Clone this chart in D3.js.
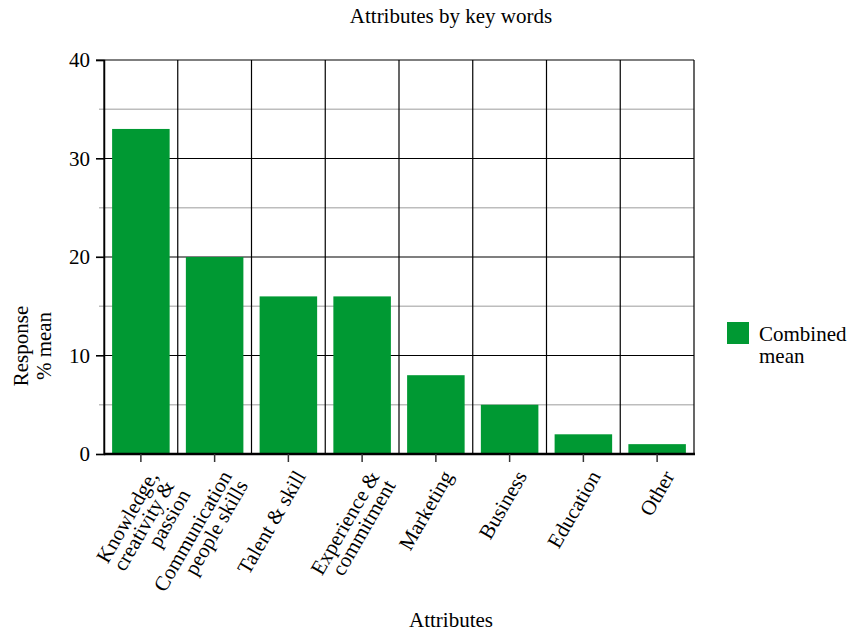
<!DOCTYPE html>
<html><head><meta charset="utf-8">
<script src="https://cdn.jsdelivr.net/npm/d3@7"></script>
<style>body{margin:0;background:#fff}svg text{font-family:"Liberation Serif","Times New Roman",serif !important;fill:#000}</style>
</head><body><svg id="c" width="848" height="632"></svg>
<script>
const categories = [["Knowledge,","creativity &","passion"],["Communication","people skills"],["Talent & skill"],["Experience &","commitment"],["Marketing"],["Business"],["Education"],["Other"]];
const values = [33, 20, 16, 16, 8, 5, 2, 1];
const majorTicks = [0, 10, 20, 30, 40];
const minorTicks = [5, 15, 25, 35];
const seriesName = ["Combined", "mean"];
const title = "Attributes by key words";
const xTitle = "Attributes";
const yTitle = ["Response", "% mean"];

const svg = d3.select("#c");
const L = 104, R = 694, T = 60, B = 454;
const fs = 21;
const idx = categories.map((d,i)=>i);
const x = d3.scaleBand().domain(idx).range([L, R]).paddingInner(0.22).paddingOuter(0.11);
const xb = d3.scaleBand().domain(idx).range([L, R]);
const y = d3.scaleLinear().domain([0, 40]).range([B, T]);

// minor gridlines
svg.append("g").selectAll("line").data(minorTicks).join("line")
  .attr("x1", L-5).attr("x2", R).attr("y1", d=>y(d)).attr("y2", d=>y(d))
  .attr("stroke", "#bdbdbd").attr("stroke-width", 1.5);
// major gridlines
svg.append("g").selectAll("line").data(majorTicks.filter(d=>d>0)).join("line")
  .attr("x1", L-8).attr("x2", R).attr("y1", d=>y(d)).attr("y2", d=>y(d))
  .attr("stroke", "#000").attr("stroke-width", 1.2);
// vertical gridlines at band boundaries
const bounds = idx.map(i=>xb(i)).concat([R]);
svg.append("g").selectAll("line").data(bounds).join("line")
  .attr("x1", d=>d).attr("x2", d=>d).attr("y1", T).attr("y2", B)
  .attr("stroke", "#000").attr("stroke-width", 1.2);

// bars
svg.append("g").selectAll("rect").data(values).join("rect")
  .attr("x", (d,i)=>x(i)).attr("width", x.bandwidth())
  .attr("y", d=>y(d)).attr("height", d=>B-y(d)).attr("fill", "#009933");

// y axis
const ya = svg.append("g").attr("transform", `translate(${L},0)`)
  .call(d3.axisLeft(y).tickValues(majorTicks).tickSize(8).tickPadding(6));
ya.attr("font-family", null).attr("font-size", null);
ya.select(".domain").attr("stroke", "#000").attr("stroke-width", 1.5);
ya.selectAll(".tick line").attr("stroke", "#000").attr("stroke-width", 1.2);
ya.selectAll(".tick text").attr("font-size", fs).attr("fill", "#000");

// x axis
const xa = svg.append("g").attr("transform", `translate(0,${B})`)
  .call(d3.axisBottom(x).tickSize(8).tickFormat(""));
xa.select(".domain").attr("stroke", "#000").attr("stroke-width", 2.5).attr("d", `M${L},0H${R+1}`);
xa.selectAll(".tick line").attr("stroke", "#333").attr("stroke-width", 1.5);
xa.selectAll(".tick text").remove();

// x labels rotated
const lab = svg.append("g").selectAll("text").data(categories).join("text")
  .attr("transform", (d,i)=>`translate(${x(i)+x.bandwidth()/2+18},${B+22}) rotate(-60)`)
  .attr("text-anchor", "end").attr("font-size", fs);
lab.selectAll("tspan").data(d=>d).join("tspan")
  .attr("x", 0).attr("dy", (d,j)=>j===0?0:"0.88em").text(d=>d);

// titles
svg.append("text").attr("x", 451).attr("y", 23).attr("text-anchor", "middle").attr("font-size", fs).text(title);
svg.append("text").attr("x", 451).attr("y", 627).attr("text-anchor", "middle").attr("font-size", fs).text(xTitle);
const yt = svg.append("text").attr("transform", "translate(28,346) rotate(-90)").attr("text-anchor", "middle").attr("font-size", fs);
yt.selectAll("tspan").data(yTitle).join("tspan").attr("x", 0).attr("dy", (d,j)=>j===0?0:"1.1em").text(d=>d);

// legend
svg.append("rect").attr("x", 727).attr("y", 322).attr("width", 22).attr("height", 22).attr("fill", "#009933");
const lt = svg.append("text").attr("x", 759).attr("y", 341).attr("font-size", fs);
lt.selectAll("tspan").data(seriesName).join("tspan").attr("x", 759).attr("dy", (d,j)=>j===0?0:"1.05em").text(d=>d);
</script></body></html>
